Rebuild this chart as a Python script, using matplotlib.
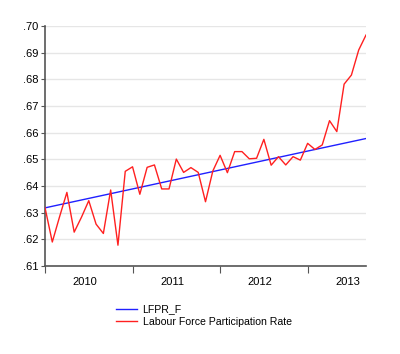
import matplotlib.pyplot as plt
import numpy as np

plt.rcParams['font.family'] = ['Liberation Sans', 'DejaVu Sans']

# monthly observations, Jan 2010 .. Sep 2013
lfpr = [0.6319, 0.6190, 0.6285, 0.6376, 0.6227, 0.6283, 0.6345, 0.6257,
        0.6222, 0.6385, 0.6178, 0.6455,
        0.6472, 0.6369, 0.6470, 0.6479, 0.6389, 0.6389, 0.6501, 0.6451,
        0.6469, 0.6451, 0.6341, 0.6456,
        0.6515, 0.6450, 0.6529, 0.6529, 0.6502, 0.6504, 0.6575, 0.6478,
        0.6510, 0.6479, 0.6510, 0.6497,
        0.6560, 0.6537, 0.6554, 0.6645, 0.6604, 0.6782, 0.6816, 0.6910,
        0.6966]

# fitted trend (straight line), read at a few months
trend_idx = [0, 12, 24, 36, 44]
trend_val = [0.6318, 0.6389, 0.6460, 0.6531, 0.6578]

years = ['2010', '2011', '2012', '2013']
yticks = [0.61, 0.62, 0.63, 0.64, 0.65, 0.66, 0.67, 0.68, 0.69, 0.70]

fig = plt.figure(figsize=(4.0, 3.54), dpi=100)
ax = fig.add_axes([45 / 400, 1 - 266 / 354, 321 / 400, 240 / 354])

x = np.arange(len(lfpr))
ax.plot(trend_idx, trend_val, color='#2020ff', lw=1.0, label='LFPR_F', zorder=3)
ax.plot(x, lfpr, color='#ff2020', lw=1.0, label='Labour Force Participation Rate', zorder=3)

ax.set_xlim(0, len(lfpr) - 1)
ax.set_ylim(0.61, 0.70)
ax.set_yticks(yticks)
ax.set_yticklabels(['.%02d' % round(v * 100) for v in yticks])

ax.set_xticks([0, 12, 24, 36])
ax.set_xticklabels([])
ax.set_xticks([i * 12 + 5.5 for i in range(len(years))], minor=True)
ax.set_xticklabels(years, minor=True)
ax.tick_params(axis='x', which='minor', length=0, pad=8, labelsize=8)
ax.tick_params(axis='x', which='major', length=5, width=0.8, color='#555555')
ax.tick_params(axis='y', length=3, width=0.8, color='#555555', labelsize=8, pad=2)

ax.grid(axis='y', color='#e6e6e6', lw=1.0, zorder=0)
for s in ['top', 'right']:
    ax.spines[s].set_visible(False)
for s in ['left', 'bottom']:
    ax.spines[s].set_color('#555555')
    ax.spines[s].set_linewidth(1.2)

fig.legend(loc='upper left', bbox_to_anchor=(112 / 400, 1 - 300 / 354),
           frameon=False, fontsize=7.6, handlelength=2.0, handletextpad=0.5,
           labelspacing=0.25, borderaxespad=0)

fig.savefig('out.png', dpi=100)
